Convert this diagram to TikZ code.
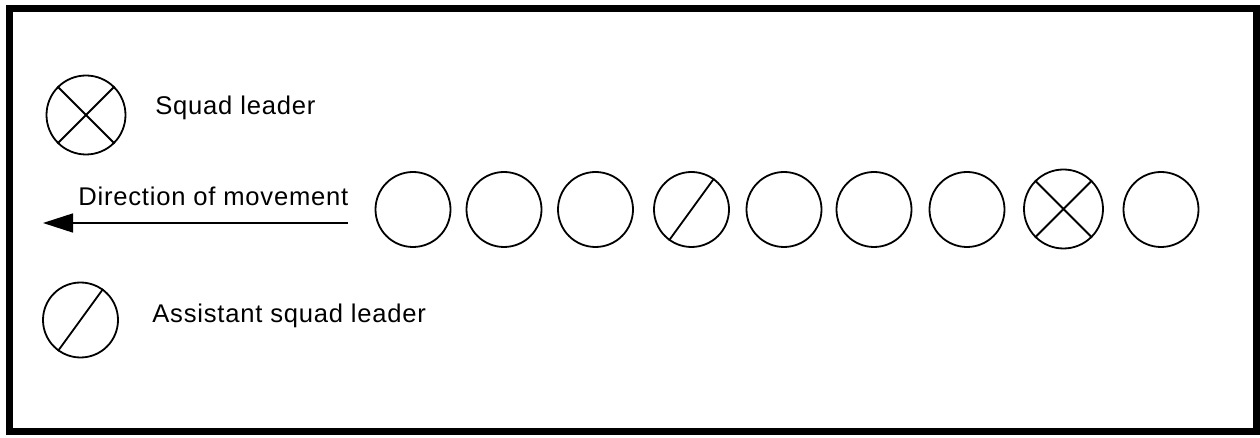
\documentclass[tikz,border=0pt]{standalone}
\usepackage{fontspec}
\setmainfont{Liberation Sans}[LetterSpace=3]
\usetikzlibrary{arrows.meta}
\tikzset{
  soldier/.style={draw, circle, line width=0.9pt, inner sep=0pt, minimum size=37.5pt},
  leader/.style={soldier, minimum size=39.5pt},
  mark line/.style={line width=0.9pt},
  label text/.style={anchor=base west, inner sep=0pt, font=\fontsize{12.8}{15}\selectfont},
}
\begin{document}
\begin{tikzpicture}[x=0.5pt,y=-0.5pt]
\useasboundingbox (0,0) rectangle (1260,438);
\draw[line width=3.5pt] (9,8.5) rectangle (1256,432);
% legend
\node[leader] (lsl) at (86,115) {};
\draw[mark line] (lsl.45) -- (lsl.225) (lsl.135) -- (lsl.315);
\node[label text] (tsl) at (155,115) {Squad leader};
\node[soldier] (lasl) at (80.5,320) {};
\draw[mark line] (lasl.54) -- (lasl.234);
\node[label text] (tasl) at (152,323) {Assistant squad leader};
% direction
\node[label text] (tdir) at (78,206) {Direction of movement};
\coordinate (astart) at (348,223);
\coordinate (aend) at (43,223);
\draw[line width=0.75pt, -{Triangle[length=15pt,width=9.5pt]}] (astart) -- (aend);
% squad
\node[soldier] (s1) at (413,209.5) {};
\node[soldier] (s2) at (504,209.5) {};
\node[soldier] (s3) at (595.5,209.5) {};
\node[soldier] (s4) at (691.5,209.5) {};
\draw[mark line] (s4.54) -- (s4.234);
\node[soldier] (s5) at (784,209.5) {};
\node[soldier] (s6) at (874,209.5) {};
\node[soldier] (s7) at (967,209.5) {};
\node[leader] (s8) at (1063.5,209) {};
\draw[mark line] (s8.45) -- (s8.225) (s8.135) -- (s8.315);
\node[soldier] (s9) at (1161,209.5) {};
\end{tikzpicture}
\end{document}
